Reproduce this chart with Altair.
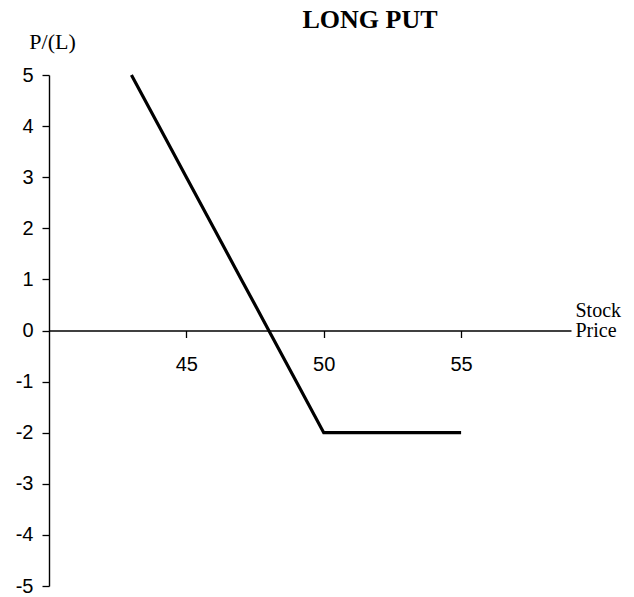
import altair as alt
import pandas as pd

# Data
stock_price = [43, 44, 45, 46, 47, 48, 49, 50, 51, 52, 53, 54, 55]
profit_loss = [5, 4, 3, 2, 1, 0, -1, -2, -2, -2, -2, -2, -2]
x_ticks = [45, 50, 55]
y_ticks = [-5, -4, -3, -2, -1, 0, 1, 2, 3, 4, 5]

df = pd.DataFrame({"price": stock_price, "pl": profit_loss})

PLOT_H = 511
Y0_OFFSET = -PLOT_H / 2  # move x axis up to the zero line

chart = (
    alt.Chart(df)
    .mark_line(color="black", strokeWidth=3.2, clip=False)
    .encode(
        x=alt.X(
            "price:Q",
            scale=alt.Scale(domain=[40, 59], nice=False, zero=False),
            axis=alt.Axis(
                values=x_ticks,
                offset=Y0_OFFSET,
                grid=False,
                domainColor="black",
                domainWidth=1.4,
                tickColor="black",
                tickWidth=1.3,
                tickSize=7,
                labelExpr="'' + datum.value",
                labelFont="Liberation Sans",
                labelFontSize=20,
                labelColor="black",
                labelPadding=17,
                title=["Stock", "Price"],
                titleFont="Liberation Serif",
                titleFontSize=20,
                titleFontWeight="normal",
                titleColor="black",
                titleAngle=0,
                titleAlign="left",
                titleBaseline="alphabetic",
                titleX=526,
                titleY=-14,
                titleLineHeight=20,
            ),
        ),
        y=alt.Y(
            "pl:Q",
            scale=alt.Scale(domain=[-5, 5], nice=False, zero=False),
            axis=alt.Axis(
                values=y_ticks,
                grid=False,
                domainColor="black",
                domainWidth=1.4,
                tickColor="black",
                tickWidth=1.3,
                tickSize=7,
                labelExpr="'' + datum.value",
                labelFont="Liberation Sans",
                labelFontSize=20,
                labelColor="black",
                labelPadding=9,
                title="P/(L)",
                titleFont="Liberation Serif",
                titleFontSize=22,
                titleFontWeight="normal",
                titleColor="black",
                titleAngle=0,
                titleAlign="center",
                titleBaseline="alphabetic",
                titleX=3,
                titleY=-27,
            ),
        ),
    )
    .properties(
        width=522,
        height=PLOT_H,
        title=alt.TitleParams(
            "LONG PUT",
            font="Liberation Serif",
            fontSize=26,
            fontWeight="bold",
            color="black",
            anchor="middle",
            dx=60,
            dy=7,
        ),
        autosize=alt.AutoSizeParams(type="none"),
        padding={"left": 41, "top": 67, "right": 53, "bottom": 10},
    )
    .configure_view(stroke=None)
)

chart.save("out.html", embed_options={"renderer": "svg", "actions": False})
